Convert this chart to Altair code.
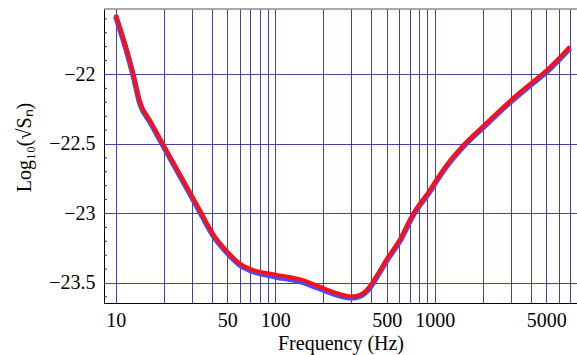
import altair as alt
import pandas as pd

# Noise spectral density curve (log10 of sqrt(Sn)) against frequency
freq_hz = [10, 11.7, 12.9, 14.2, 16.4, 20, 25.3, 33.8, 40.9, 49.7, 60, 70, 100,
           144, 200, 243, 300, 340, 375, 400, 443, 500, 600, 735, 935, 1030,
           1190, 1510, 2020, 2970, 4050, 5040, 7050]
log_sn_fit = [-21.57, -21.82, -22.00, -22.20, -22.33, -22.51, -22.72, -22.98,
              -23.15, -23.27, -23.36, -23.40, -23.44, -23.475, -23.537, -23.573,
              -23.597, -23.585, -23.55, -23.51, -23.43, -23.33, -23.195, -23.00,
              -22.83, -22.755, -22.65, -22.51, -22.37, -22.19, -22.06, -21.97,
              -21.80]
log_sn_model = [-21.58, -21.83, -22.01, -22.21, -22.34, -22.52, -22.73, -22.99,
                -23.16, -23.28, -23.37, -23.41, -23.455, -23.49, -23.55, -23.585,
                -23.607, -23.595, -23.56, -23.52, -23.44, -23.34, -23.205, -23.01,
                -22.84, -22.765, -22.66, -22.52, -22.38, -22.20, -22.07, -21.98,
                -21.81]

# Grid positions and which of them carry labels
x_grid = [10, 20, 30, 40, 50, 60, 70, 80, 90,
          100, 200, 300, 400, 500, 600, 700, 800, 900,
          1000, 2000, 3000, 4000, 5000, 6000, 7000]
x_labels = [10, 50, 100, 500, 1000, 5000]
y_grid = [-22, -22.5, -23, -23.5]
y_minor = [-21.6, -21.7, -21.8, -21.9, -22.1, -22.2, -22.3, -22.4, -22.6,
           -22.7, -22.8, -22.9, -23.1, -23.2, -23.3, -23.4, -23.6]

W, H = 473, 294
x_dom = [8.45, 7800]
y_dom = [-23.644, -21.529]
FONT = "Liberation Serif"
FS = 20
GRID = "#14148c"

df = pd.DataFrame({"f": freq_hz, "fit": log_sn_fit, "model": log_sn_model})
minor_df = pd.DataFrame({"y": y_minor})

xscale = alt.Scale(type="log", domain=x_dom, nice=False)
yscale = alt.Scale(domain=y_dom, nice=False, zero=False)

label_list = "[" + ",".join(str(v) for v in x_labels) + "]"

base = alt.Chart(df)

blue = base.mark_line(color="#4a4aff", strokeWidth=5.5, interpolate="monotone").encode(
    x=alt.X("f:Q", scale=xscale,
            axis=alt.Axis(values=x_grid, title="Frequency (Hz)", format="d",
                          labelExpr=f"indexof({label_list}, datum.value) >= 0 ? datum.label : ''",
                          grid=True, gridColor=GRID, gridOpacity=0.8, gridWidth=1,
                          ticks=False, domainColor="black", domainWidth=1,
                          labelFont=FONT, labelFontSize=FS, labelColor="black",
                          labelPadding=7, labelFlush=False, labelOverlap=False,
                          titleFont=FONT, titleFontSize=FS, titleFontWeight="normal",
                          titleColor="black", titlePadding=3)),
    y=alt.Y("model:Q", scale=yscale,
            axis=alt.Axis(values=y_grid, title="Log₁₀(√Sₙ)", format="~g",
                          grid=True, gridColor=GRID, gridOpacity=0.8, gridWidth=1,
                          ticks=False, domainColor="black", domainWidth=1,
                          labelFont=FONT, labelFontSize=FS, labelColor="black",
                          labelPadding=9,
                          titleFont=FONT, titleFontSize=FS, titleFontWeight="normal",
                          titleColor="black", titleX=-70, titleY=138,
                          titleAngle=270, titleAlign="center", titleBaseline="bottom")),
)

red = base.mark_line(color="#ff1010", strokeWidth=4, interpolate="monotone").encode(
    x=alt.X("f:Q", scale=xscale),
    y=alt.Y("fit:Q", scale=yscale),
)

minor_ticks = alt.Chart(minor_df).mark_rule(color="#333333", strokeWidth=1).encode(
    y=alt.Y("y:Q", scale=yscale),
    x=alt.value(0),
    x2=alt.value(3),
)

top_edge = alt.Chart(pd.DataFrame({"y": [y_dom[1]]})).mark_rule(color="#555555", strokeWidth=1).encode(
    y=alt.Y("y:Q", scale=yscale),
    x=alt.value(0),
    x2=alt.value(W),
)

chart = alt.layer(blue, red, minor_ticks, top_edge).properties(
    width=W, height=H,
    autosize=alt.AutoSizeParams(type="none"),
    padding={"left": 104, "top": 9, "right": 0, "bottom": 52},
    background="white",
).configure_view(stroke=None)

chart.save("out.html", embed_options={"renderer": "svg", "actions": False})
